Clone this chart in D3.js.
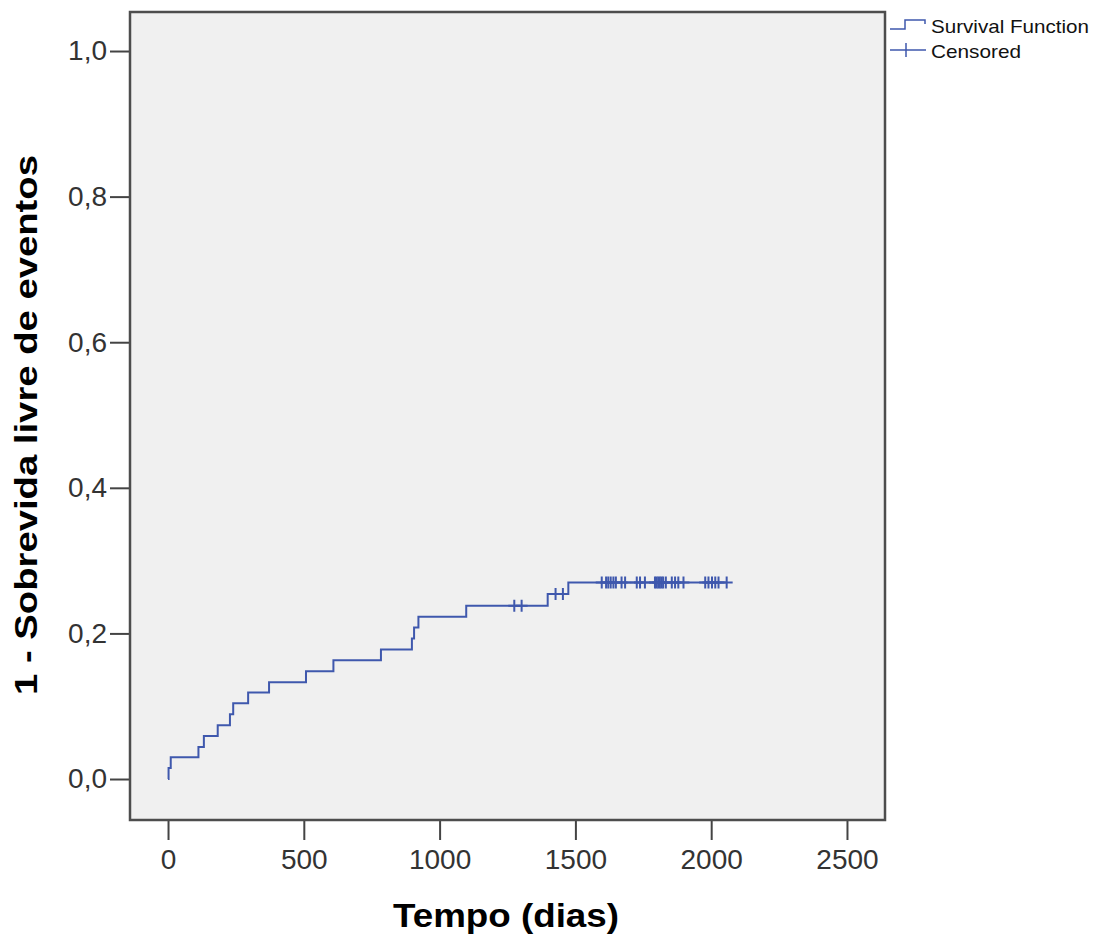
<!DOCTYPE html>
<html>
<head>
<meta charset="utf-8">
<script src="https://cdn.jsdelivr.net/npm/d3@7"></script>
<style>
  html, body { margin: 0; padding: 0; background: #fff; }
  svg { display: block; font-family: "Liberation Sans", Arial, sans-serif; }
</style>
</head>
<body>
<svg id="chart" width="1097" height="938"></svg>
<script>
// step times (days) and cumulative values (1 - survival)
const stepTimes  = [0, 2, 10, 112, 132, 183, 228, 240, 295, 372, 508, 609, 784, 898, 906, 922, 1098, 1398, 1474];
const stepValues = [0, 0.015, 0.030, 0.044, 0.059, 0.074, 0.089, 0.104, 0.119, 0.133, 0.148, 0.163, 0.178, 0.193, 0.208, 0.223, 0.238, 0.254, 0.270];
// censored observations (days)
const censorTimes = [1275, 1302, 1427, 1454,
  1597, 1613, 1621, 1630, 1640, 1649, 1670, 1683, 1726, 1738, 1756,
  1793, 1799, 1805, 1811, 1817, 1823, 1833, 1855, 1867, 1879, 1898,
  1978, 1990, 2003, 2015, 2027, 2057];
const xTicks = [0, 500, 1000, 1500, 2000, 2500];
const yTicks = [0, 0.2, 0.4, 0.6, 0.8, 1.0];
const legendLabels = ["Survival Function", "Censored"];

const lineColor = "#3f58ad";
const frame = { left: 130, right: 885, top: 12, bottom: 820 };

const svg = d3.select("#chart");
const x = d3.scaleLinear().domain([-140, 2640]).range([frame.left, frame.right]);
const y = d3.scaleLinear().domain([-0.0563, 1.0536]).range([frame.bottom, frame.top]);

// value of the step function at time t
const valueAt = t => stepValues[d3.bisectRight(stepTimes, t) - 1];

/* plot background */
svg.append("rect")
  .attr("x", frame.left).attr("y", frame.top)
  .attr("width", frame.right - frame.left).attr("height", frame.bottom - frame.top)
  .attr("fill", "#f0f0f0");

/* axes */
const fmt = d => d3.format(".1f")(d).replace(".", ",");
const yAxis = svg.append("g")
  .attr("transform", `translate(${frame.left},0)`)
  .call(d3.axisLeft(y).tickValues(yTicks).tickFormat(fmt).tickSize(20).tickPadding(3));
const xAxis = svg.append("g")
  .attr("transform", `translate(0,${frame.bottom})`)
  .call(d3.axisBottom(x).tickValues(xTicks).tickFormat(d3.format("d")).tickSize(20).tickPadding(9));
[xAxis, yAxis].forEach(g => {
  g.select(".domain").remove();
  g.selectAll(".tick line").attr("stroke", "#444").attr("stroke-width", 2);
  g.selectAll(".tick text").attr("fill", "#333").style("font-size", "28px")
    .style("font-family", "'Liberation Sans', Arial, sans-serif");
});

/* survival curve */
const lastT = d3.max(censorTimes);
const curvePts = stepTimes.map((t, i) => [t, stepValues[i]]).concat([[lastT, valueAt(lastT)]]);
svg.append("path")
  .datum(curvePts)
  .attr("fill", "none")
  .attr("stroke", lineColor)
  .attr("stroke-width", 2)
  .attr("d", d3.line().x(d => x(d[0])).y(d => y(d[1])).curve(d3.curveStepAfter));

/* censor marks */
const arm = 6;
svg.append("g").selectAll("path.censor")
  .data(censorTimes)
  .join("path")
  .attr("class", "censor")
  .attr("fill", "none")
  .attr("stroke", lineColor)
  .attr("stroke-width", 2)
  .attr("d", t => {
    const cx = x(t), cy = y(valueAt(t));
    return `M${cx - arm},${cy}H${cx + arm}M${cx},${cy - arm}V${cy + arm}`;
  });

/* frame */
svg.append("rect")
  .attr("x", frame.left).attr("y", frame.top)
  .attr("width", frame.right - frame.left).attr("height", frame.bottom - frame.top)
  .attr("fill", "none").attr("stroke", "#4d4d4d").attr("stroke-width", 2.5);

/* axis titles */
svg.append("text")
  .attr("x", 506).attr("y", 927)
  .attr("text-anchor", "middle")
  .attr("font-weight", "bold").attr("font-size", 34)
  .attr("textLength", 226).attr("lengthAdjust", "spacingAndGlyphs")
  .text("Tempo (dias)");
svg.append("text")
  .attr("transform", "translate(37,425) rotate(-90)")
  .attr("text-anchor", "middle")
  .attr("font-weight", "bold").attr("font-size", 32)
  .attr("textLength", 540).attr("lengthAdjust", "spacingAndGlyphs")
  .text("1 - Sobrevida livre de eventos");

/* legend */
const leg = svg.append("g");
leg.append("path")
  .attr("fill", "none").attr("stroke", lineColor).attr("stroke-width", 1.5)
  .attr("d", "M890,29H905V20H925V24");
leg.append("path")
  .attr("fill", "none").attr("stroke", lineColor).attr("stroke-width", 1.5)
  .attr("d", "M890,50H926M906,43V57");
leg.selectAll("text")
  .data(legendLabels)
  .join("text")
  .attr("x", 931)
  .attr("y", (d, i) => 33 + i * 25)
  .attr("font-size", 19)
  .attr("fill", "#111")
  .attr("textLength", (d, i) => i === 0 ? 158 : 90)
  .attr("lengthAdjust", "spacingAndGlyphs")
  .text(d => d);
</script>
</body>
</html>
